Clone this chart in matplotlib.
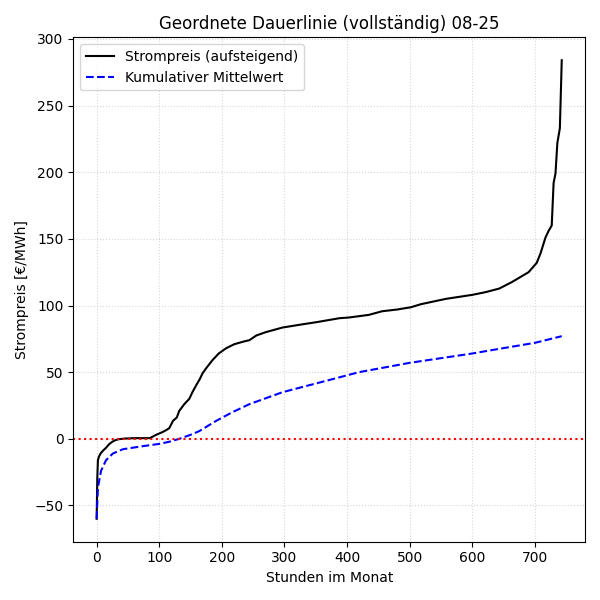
import matplotlib

matplotlib.use("Agg")
import matplotlib.pyplot as plt
import numpy as np


# sorted hourly prices
hours = [0, 1, 2, 4, 7, 11, 15, 20, 25, 30, 35, 45, 60, 85, 95, 105, 111, 116,
         122, 128, 132, 140, 148, 153, 160, 165, 169, 175, 185, 195, 207, 220,
         235, 244, 255, 270, 297, 330, 351, 388, 403, 435, 456, 480, 502, 518,
         558, 600, 621, 643, 663, 690, 703, 709, 717, 722, 727, 730, 733, 736,
         740, 743]
price = [-60, -30, -16, -13, -10.5, -8.5, -6.7, -4, -2.2, -1, -0.3, 0.2, 0.5,
         0.5, 3, 5, 6.5, 8, 13.5, 16, 21, 26, 30, 35, 41, 45, 49, 53, 59, 64,
         68, 71, 73, 74, 77.5, 80, 83.5, 86, 87.5, 90.5, 91, 93, 95.7, 97,
         98.7, 101, 105, 108, 110, 112.7, 117.5, 125, 132, 139, 151, 156, 160,
         192, 199, 222, 233, 284]

# cumulative mean of the sorted prices
mean_hours = [0, 2, 7, 15, 26, 42, 74, 100, 116, 132, 150, 164, 191, 217, 244,
              297, 351, 403, 419, 500, 600, 643, 700, 743]
cum_mean = [-60, -36.6, -24, -16, -11, -7.8, -5.5, -3.8, -2.2, 0, 3, 5.8, 13.5,
            20, 26, 35, 41.6, 48, 50, 57, 64, 67.5, 72, 77]

fig, ax = plt.subplots(figsize=(6, 6))
ax.plot(hours, price, color="black", lw=1.5, label="Strompreis (aufsteigend)")
ax.plot(mean_hours, cum_mean, color="blue", ls="--", lw=1.5,
        label="Kumulativer Mittelwert")
ax.axhline(0, color="red", ls=":", lw=1.5)
ax.set_title("Geordnete Dauerlinie (vollständig) 08-25")
ax.set_xlabel("Stunden im Monat")
ax.set_ylabel("Strompreis [€/MWh]")
ax.grid(True, ls=":", alpha=0.5)
ax.legend(loc="upper left")
fig.tight_layout()
fig.savefig("out.png", dpi=100)
